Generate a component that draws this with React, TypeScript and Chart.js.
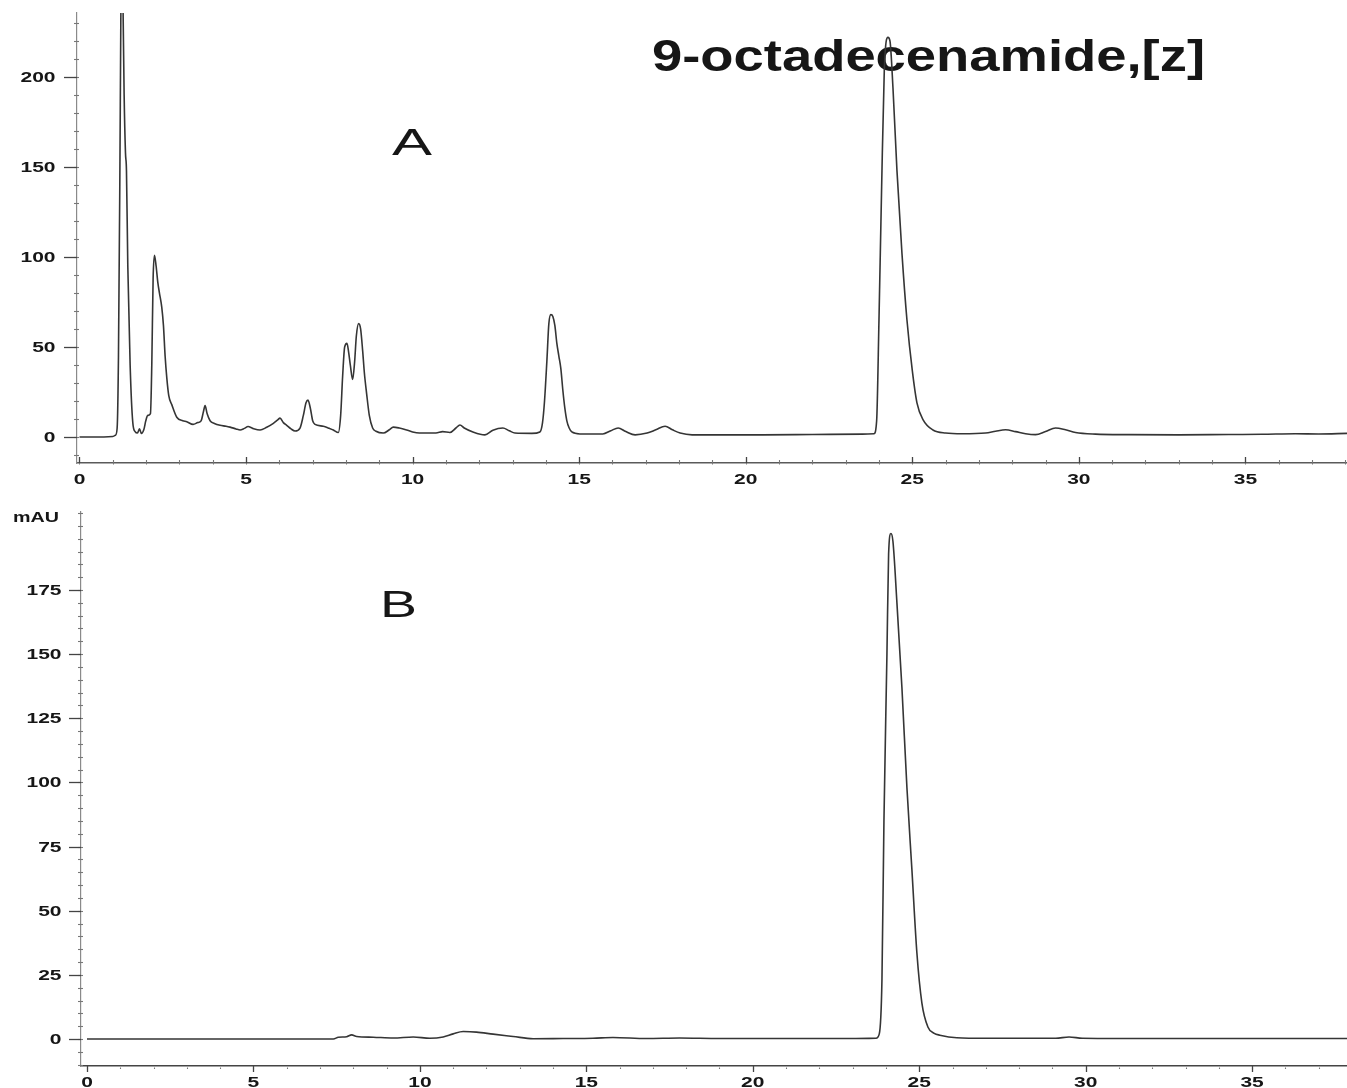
import React, { useEffect, useRef } from 'react';
import { Chart, registerables } from 'chart.js';

Chart.register(...registerables);

// ---------- Data ----------
// Panel A: retention time (min) and absorbance
const topTime = [
  0, 0.5, 1.0, 1.08, 1.13, 1.17, 1.21, 1.24, 1.27, 1.3, 1.34, 1.38, 1.41, 1.45, 1.52, 1.6, 1.67, 1.74, 1.8, 1.86,
  1.93, 1.99, 2.05, 2.13, 2.17, 2.21, 2.25, 2.3, 2.35, 2.4, 2.47, 2.52, 2.57, 2.62, 2.68, 2.77, 2.92, 3.1, 3.22, 3.41,
  3.55, 3.65, 3.72, 3.77, 3.83, 3.92, 4.05, 4.22, 4.4, 4.52, 4.7, 4.82, 4.95, 5.06, 5.2, 5.42, 5.62, 5.82, 5.95, 6.02,
  6.12, 6.22, 6.35, 6.47, 6.62, 6.72, 6.8, 6.86, 6.93, 7.0, 7.07, 7.32, 7.5, 7.62, 7.77, 7.84, 7.9, 7.96, 8.03, 8.08,
  8.13, 8.2, 8.26, 8.31, 8.38, 8.44, 8.5, 8.55, 8.62, 8.7, 8.8, 8.9, 9.12, 9.3, 9.42, 9.6, 9.82, 10.0, 10.2, 10.5,
  10.7, 10.9, 11.12, 11.3, 11.42, 11.55, 11.81, 12.17, 12.41, 12.71, 12.9, 13.07, 13.58, 13.82, 13.9, 13.96, 14.03, 14.09, 14.15, 14.21,
  14.27, 14.33, 14.39, 14.45, 14.51, 14.57, 14.63, 14.7, 14.78, 15.02, 15.71, 15.95, 16.17, 16.4, 16.68, 17.04, 17.3, 17.58, 17.8, 18.03,
  18.39, 19.5, 20.5, 22, 23.5, 23.85, 23.93, 24.0, 24.08, 24.16, 24.27, 24.33, 24.42, 24.54, 24.69, 24.84, 25.0, 25.14, 25.33, 25.62,
  26.0, 26.5, 27.2, 27.5, 27.8, 28.1, 28.4, 28.7, 29.0, 29.3, 29.6, 29.9, 30.5, 31.5, 33, 34.5, 35.5, 36.5, 37.2, 38.05,
];
const topSignal = [
  0, 0, 0.3, 1, 5, 45, 140, 230, 300, 250, 190, 158, 148, 95, 40, 8, 3, 2.2, 4.5, 2,
  4, 9, 12, 13, 40, 88, 101, 95, 86, 80, 72, 62, 45, 33, 23, 18, 11, 9, 8.5, 7,
  8, 9, 14, 17.5, 13, 9, 7.5, 6.5, 6, 5.5, 4.5, 3.9, 4.8, 5.8, 4.8, 3.9, 5.4, 7.6, 9.5, 10.5,
  8, 6.5, 4.5, 3.3, 5, 12, 19, 20.5, 16, 9, 7, 6, 4.8, 3.9, 2.5, 12, 34, 50, 52, 47,
  40, 32, 42, 56, 63, 60, 48, 36, 24, 12, 5, 3.2, 2.2, 4, 5.5, 5, 3.9, 2.8, 2.2, 2.2,
  2.2, 3, 2.5, 5, 6.7, 5, 2.8, 1.2, 3.8, 5, 3.5, 2.2, 2, 2.8, 8, 20, 42, 63, 68, 67,
  62, 52, 45, 38, 26, 16, 9, 5, 2.8, 1.7, 1.7, 3.5, 5, 3, 1.2, 2.2, 4, 6, 4, 2.2,
  1.2, 1.2, 1.2, 1.4, 1.6, 1.8, 9, 65, 139, 204, 222, 220, 194, 148, 102, 65, 37, 19, 9.4, 3.9,
  2.2, 1.8, 2.2, 3.2, 4, 3, 1.8, 1.3, 3, 5, 4, 2.5, 1.6, 1.3, 1.2, 1.4, 1.5, 1.8, 1.7, 2,
];

// Panel B: retention time (min) and absorbance (mAU)
const bottomTime = [
  0, 3, 6, 7.4, 7.55, 7.8, 7.95, 8.1, 8.6, 9.2, 9.8, 10.3, 10.7, 11.0, 11.3, 11.7, 12.2, 12.8, 13.4, 14.3,
  15.2, 15.8, 16.8, 17.8, 19, 21, 23, 23.7, 23.8, 23.88, 23.94, 24.03, 24.08, 24.15, 24.21, 24.33, 24.48, 24.63, 24.78, 24.93,
  25.08, 25.26, 25.45, 25.62, 26.13, 27, 29.1, 29.5, 29.9, 31, 33, 35, 37.85,
];
const bottomSignal = [
  0, 0, 0, 0, 0.7, 0.9, 1.6, 1, 0.7, 0.4, 0.8, 0.3, 0.8, 2, 2.9, 2.7, 1.9, 1.0, 0.1, 0.2,
  0.3, 0.6, 0.2, 0.4, 0.2, 0.2, 0.2, 0.3, 2, 23, 85, 150, 189, 197, 194, 170, 137, 98, 66, 33.5,
  14, 4.7, 2.2, 1.5, 0.5, 0.3, 0.3, 0.8, 0.3, 0.2, 0.2, 0.2, 0.2,
];

// Tick labels
const xTicks = [0, 5, 10, 15, 20, 25, 30, 35];
const topYTicks = [0, 50, 100, 150, 200];
const bottomYTicks = [0, 25, 50, 75, 100, 125, 150, 175];

// Texts
const titleText = '9-octadecenamide,[z]';
const panelALabel = 'A';
const panelBLabel = 'B';
const unitLabel = 'mAU';

// ---------- Drawing helpers ----------
const SANS = '"Liberation Sans", Arial, Helvetica, sans-serif';

function stretchText(
  ctx: CanvasRenderingContext2D,
  text: string,
  x: number,
  y: number,
  font: string,
  align: CanvasTextAlign,
  sx: number,
  color = '#161616'
) {
  ctx.save();
  ctx.font = font;
  ctx.fillStyle = color;
  ctx.textAlign = align;
  ctx.textBaseline = 'alphabetic';
  ctx.translate(x, y);
  ctx.scale(sx, 1);
  ctx.fillText(text, 0, 0);
  ctx.restore();
}

function fitText(
  ctx: CanvasRenderingContext2D,
  text: string,
  left: number,
  baseline: number,
  font: string,
  width: number
) {
  ctx.save();
  ctx.font = font;
  const w = ctx.measureText(text).width;
  ctx.restore();
  stretchText(ctx, text, left, baseline, font, 'left', width / w);
}

type Label = { text: string; left: number; baseline: number; font: string; width: number };

type PanelSpec = {
  time: number[];
  signal: number[];
  yTicks: number[];
  yMinorStep: number;
  xMin: number;
  xMax: number;
  yMin: number;
  yMax: number;
  padTop: number;
  yAxisW: number;
  xAxisH: number;
  yLabelGap: number;
  xLabelDrop: number;
  yMajorLen: number;
  xTickDir: number; // -1 up, +1 down
  yBorderColor: string;
  xBorderColor: string;
  labels: Label[];
};

function makeDecor(p: PanelSpec) {
  return {
    id: 'decor',
    beforeDatasetsDraw(chart: any) {
      const ctx: CanvasRenderingContext2D = chart.ctx;
      p.labels.forEach((l) => fitText(ctx, l.text, l.left, l.baseline, l.font, l.width));
    },
    afterDraw(chart: any) {
      const ctx: CanvasRenderingContext2D = chart.ctx;
      const ca = chart.chartArea;
      const xs = chart.scales.x;
      const ys = chart.scales.y;
      ctx.save();
      ctx.lineCap = 'butt';
      // y minor ticks
      ctx.strokeStyle = '#777';
      ctx.lineWidth = 1.1;
      const startMinor = Math.ceil(ys.min / p.yMinorStep) * p.yMinorStep;
      for (let v = startMinor; v <= ys.max + 1e-6; v += p.yMinorStep) {
        const py = Math.round(ys.getPixelForValue(v)) + 0.5;
        ctx.beginPath();
        ctx.moveTo(ca.left - 3, py);
        ctx.lineTo(ca.left + 2, py);
        ctx.stroke();
      }
      // x minor ticks
      for (let t = Math.ceil(xs.min); t <= xs.max; t += 1) {
        const px = Math.round(xs.getPixelForValue(t)) + 0.5;
        ctx.beginPath();
        ctx.moveTo(px, ca.bottom - 1.5 * (p.xTickDir < 0 ? 2 : -1));
        ctx.lineTo(px, ca.bottom + 1.5 * (p.xTickDir < 0 ? 1 : 2));
        ctx.stroke();
      }
      // y major ticks
      ctx.strokeStyle = '#444';
      ctx.lineWidth = 1.3;
      ys.ticks.forEach((tk: any) => {
        const py = Math.round(ys.getPixelForValue(tk.value)) + 0.5;
        ctx.beginPath();
        ctx.moveTo(ca.left - p.yMajorLen, py);
        ctx.lineTo(ca.left, py);
        ctx.stroke();
      });
      // x major ticks
      xs.ticks.forEach((tk: any) => {
        const px = Math.round(xs.getPixelForValue(tk.value)) + 0.5;
        ctx.beginPath();
        ctx.moveTo(px, ca.bottom);
        ctx.lineTo(px, ca.bottom + 6 * p.xTickDir);
        ctx.stroke();
      });
      ctx.restore();
      // tick labels
      const tickFont = `bold 14px ${SANS}`;
      ys.ticks.forEach((tk: any) => {
        const py = ys.getPixelForValue(tk.value);
        stretchText(ctx, String(tk.value), ca.left - p.yLabelGap, py + 5, tickFont, 'right', 1.5);
      });
      xs.ticks.forEach((tk: any) => {
        const px = xs.getPixelForValue(tk.value);
        stretchText(ctx, String(tk.value), px, ca.bottom + p.xLabelDrop, tickFont, 'center', 1.5);
      });
    },
  };
}

function makeConfig(p: PanelSpec): any {
  return {
    type: 'line',
    data: {
      datasets: [
        {
          data: p.time.map((t, i) => ({ x: t, y: p.signal[i] })),
          borderColor: '#353535',
          borderWidth: 1.6,
          pointRadius: 0,
          fill: false,
          cubicInterpolationMode: 'monotone',
        },
      ],
    },
    options: {
      animation: false,
      responsive: false,
      devicePixelRatio: 1,
      events: [],
      layout: { padding: { top: p.padTop, left: 0, right: 0, bottom: 0 } },
      plugins: { legend: { display: false }, tooltip: { enabled: false }, title: { display: false } },
      scales: {
        x: {
          type: 'linear',
          min: p.xMin,
          max: p.xMax,
          grid: { display: false, drawTicks: false, tickLength: 0 },
          border: { display: true, color: p.xBorderColor, width: 1.5 },
          ticks: { display: false },
          afterBuildTicks: (s: any) => {
            s.ticks = xTicks.map((v) => ({ value: v }));
          },
          afterFit: (s: any) => {
            s.height = p.xAxisH;
          },
        },
        y: {
          type: 'linear',
          min: p.yMin,
          max: p.yMax,
          grid: { display: false, drawTicks: false, tickLength: 0 },
          border: { display: true, color: p.yBorderColor, width: 1.2, dash: [2, 2] },
          ticks: { display: false },
          afterBuildTicks: (s: any) => {
            s.ticks = p.yTicks.map((v) => ({ value: v }));
          },
          afterFit: (s: any) => {
            s.width = p.yAxisW;
          },
        },
      },
    },
    plugins: [makeDecor(p)],
  };
}

const topSpec: PanelSpec = {
  time: topTime,
  signal: topSignal,
  yTicks: topYTicks,
  yMinorStep: 10,
  xMin: -0.075,
  xMax: 38.05,
  yMin: -14.44,
  yMax: 235.56,
  padTop: 13,
  yAxisW: 77,
  xAxisH: 32,
  yLabelGap: 21.5,
  xLabelDrop: 21,
  yMajorLen: 13,
  xTickDir: -1,
  yBorderColor: '#8a8a8a',
  xBorderColor: '#5a5a5a',
  labels: [
    { text: titleText, left: 652, baseline: 71, font: `bold 44px ${SANS}`, width: 553 },
    { text: panelALabel, left: 392, baseline: 155, font: `37px ${SANS}`, width: 40 },
  ],
};

const bottomSpec: PanelSpec = {
  time: bottomTime,
  signal: bottomSignal,
  yTicks: bottomYTicks,
  yMinorStep: 5,
  xMin: -0.18,
  xMax: 37.85,
  yMin: -10.52,
  yMax: 205.4,
  padTop: 17,
  yAxisW: 81,
  xAxisH: 22,
  yLabelGap: 19.5,
  xLabelDrop: 21,
  yMajorLen: 12,
  xTickDir: 1,
  yBorderColor: '#8a8a8a',
  xBorderColor: '#444444',
  labels: [
    { text: panelBLabel, left: 380, baseline: 122, font: `37px ${SANS}`, width: 37 },
    { text: unitLabel, left: 13, baseline: 27, font: `bold 14px ${SANS}`, width: 46 },
  ],
};

export default function App() {
  const topRef = useRef<HTMLCanvasElement>(null);
  const bottomRef = useRef<HTMLCanvasElement>(null);

  useEffect(() => {
    const c1 = new Chart(topRef.current as HTMLCanvasElement, makeConfig(topSpec));
    const c2 = new Chart(bottomRef.current as HTMLCanvasElement, makeConfig(bottomSpec));
    return () => {
      c1.destroy();
      c2.destroy();
    };
  }, []);

  return (
    <div
      style={{
        position: 'absolute',
        left: 0,
        top: 0,
        width: 1347,
        height: 1088,
        background: '#ffffff',
        overflow: 'hidden',
      }}
    >
      <canvas
        ref={topRef}
        width={1347}
        height={495}
        style={{ position: 'absolute', left: 0, top: 0, width: 1347, height: 495 }}
      />
      <canvas
        ref={bottomRef}
        width={1347}
        height={593}
        style={{ position: 'absolute', left: 0, top: 495, width: 1347, height: 593 }}
      />
    </div>
  );
}
